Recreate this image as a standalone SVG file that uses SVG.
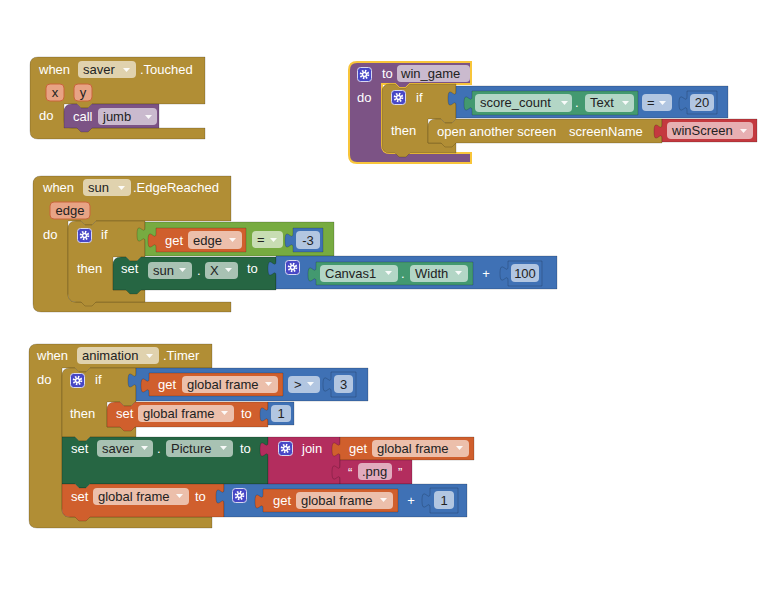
<svg xmlns="http://www.w3.org/2000/svg" xmlns:xlink="http://www.w3.org/1999/xlink" width="775" height="616" viewBox="0 0 775 616">
  <style>
    .blk { stroke: rgba(0,0,0,0.18); stroke-width: 1; }
    .gold { fill: #B18E35; }
    .purple { fill: #7C5385; }
    .blue { fill: #3F71B5; }
    .lgreen { fill: #77AB41; }
    .teal { fill: #439970; }
    .dgreen { fill: #266643; }
    .orange { fill: #D05F2D; }
    .pink { fill: #B32D5E; }
    .red { fill: #C4393F; }
    .sel { stroke: #F8C53A; stroke-width: 2; }
    .fld { fill: #ffffff; fill-opacity: 0.6; }
    .chip { fill: #E8A385; stroke: #C9653B; stroke-width: 1; }
    .lbl { font-family: "Liberation Sans", Arial, sans-serif; font-size: 13px; fill: #ffffff; }
    .ftx { font-family: "Liberation Sans", Arial, sans-serif; font-size: 13px; fill: #222222; }
    .mid { text-anchor: middle; }
  </style>
  <defs>
    <!-- dropdown arrow inside a field -->
    <path id="dd" d="M0,0 h7 l-3.5,4 z" fill="#ffffff" fill-opacity="0.9"/>
    <!-- mutator gear icon -->
    <g id="gear">
      <rect x="0.5" y="0.5" width="14" height="14" rx="3" fill="#4747C6" stroke="#D8D8F0" stroke-width="1"/>
      <circle cx="7.5" cy="7.5" r="3.7" fill="none" stroke="#ffffff" stroke-width="2.2" stroke-dasharray="1.45 1.45"/>
      <circle cx="7.5" cy="7.5" r="2.7" fill="#ffffff"/>
      <circle cx="7.5" cy="7.5" r="1.2" fill="#4747C6"/>
    </g>
  </defs>

  <rect width="775" height="616" fill="#ffffff"/>

  <!-- blocks snap together directly; no separate wires -->
  <g id="connectors"/>

  <!-- ===== when saver.Touched ===== -->
  <g id="ev-saver-touched">
    <path class="blk gold" d="M30,65 Q30,57 38,57 H205 V104 H92 l-4,4 h-7 l-4,-4 H64 V120 Q64,128 72,128 H205 V139 H38 Q30,139 30,131 Z"/>
    <text class="lbl" x="39" y="74">when</text>
    <rect class="fld" x="78" y="61" width="58" height="17" rx="4"/>
    <text class="ftx" x="83" y="74">saver</text>
    <use href="#dd" x="123" y="68"/>
    <text class="lbl" x="140" y="74">.Touched</text>
    <rect class="chip" x="46" y="84" width="18" height="17" rx="4"/>
    <text class="ftx mid" x="55" y="97">x</text>
    <rect class="chip" x="74" y="84" width="18" height="17" rx="4"/>
    <text class="ftx mid" x="83" y="97">y</text>
    <text class="lbl" x="39" y="120">do</text>
  </g>
  <g id="call-jumb">
    <path class="blk purple" d="M64,112 Q64,104 72,104 H77 l4,4 h7 l4,-4 H159 V128 H92 l-4,4 h-7 l-4,-4 H64 Z"/>
    <text class="lbl" x="73" y="121">call</text>
    <rect class="fld" x="98" y="108" width="59" height="17" rx="4"/>
    <text class="ftx" x="103" y="121">jumb</text>
    <use href="#dd" x="145" y="115"/>
  </g>

  <!-- ===== to win_game ===== -->
  <g id="proc-win-game">
    <path class="purple sel" d="M349,70 Q349,62 357,62 H471 V84 H410 l-4,4 h-7 l-4,-4 H382 V145 Q382,153 390,153 H471 V163 H357 Q349,163 349,155 Z"/>
    <use href="#gear" x="357" y="67"/>
    <text class="lbl" x="382" y="78">to</text>
    <rect class="fld" x="397" y="65" width="73" height="17" rx="4"/>
    <text class="ftx" x="401" y="78">win_game</text>
    <text class="lbl" x="357" y="102">do</text>
  </g>
  <g id="if-score">
    <path class="blk gold" d="M382,92 Q382,84 390,84 H395 l4,4 h7 l4,-4 H456 V119 l-4,4 h-7 l-4,-4 H428 V143 H456 V153 H410 l-4,4 h-7 l-4,-4 H390 Q382,153 382,145 Z"/>
    <use href="#gear" x="391" y="90"/>
    <text class="lbl" x="416" y="102">if</text>
    <text class="lbl" x="391" y="135">then</text>
  </g>
  <g id="cmp-score">
    <path class="blk blue" d="M456,86 H728 V118 H456 V106 c0,-10 -8,8 -8,-7.5 s8,2.5 8,-7.5 Z"/>
    <rect class="fld" x="642" y="94" width="30" height="17" rx="4"/>
    <text class="ftx" x="647" y="107">=</text>
    <use href="#dd" x="659" y="101"/>
  </g>
  <g id="get-score-text">
    <path class="blk teal" d="M472,91 H638 V115 H472 V111 c0,-10 -8,8 -8,-7.5 s8,2.5 8,-7.5 Z"/>
    <rect class="fld" x="475" y="94" width="97" height="18" rx="4"/>
    <text class="ftx" x="480" y="107">score_count</text>
    <use href="#dd" x="561" y="101"/>
    <text class="lbl" x="575" y="107">.</text>
    <rect class="fld" x="585" y="94" width="49" height="18" rx="4"/>
    <text class="ftx" x="590" y="107">Text</text>
    <use href="#dd" x="622" y="101"/>
  </g>
  <g id="num-20">
    <path class="blk blue" d="M687,91 H717 V114 H687 V111 c0,-10 -8,8 -8,-7.5 s8,2.5 8,-7.5 Z"/>
    <rect class="fld" x="690" y="94" width="24" height="17" rx="4"/>
    <text class="ftx mid" x="702" y="107">20</text>
  </g>
  <g id="open-screen">
    <path class="blk gold" d="M428,127 Q428,119 436,119 H441 l4,4 h7 l4,-4 H662 V143 H456 l-4,4 h-7 l-4,-4 H428 Z"/>
    <text class="lbl" x="437" y="136">open another screen</text>
    <text class="lbl" x="569" y="136">screenName</text>
  </g>
  <g id="screen-name">
    <path class="blk red" d="M662,119 H757 V142 H662 V139 c0,-10 -8,8 -8,-7.5 s8,2.5 8,-7.5 Z"/>
    <rect class="fld" x="667" y="122" width="86" height="17" rx="4"/>
    <text class="ftx" x="672" y="135">winScreen</text>
    <use href="#dd" x="740" y="129"/>
  </g>

  <!-- ===== when sun.EdgeReached ===== -->
  <g id="ev-sun-edge">
    <path class="blk gold" d="M33,184 Q33,176 41,176 H231 V221 H96 l-4,4 h-7 l-4,-4 H68 V294 Q68,302 76,302 H231 V312 H41 Q33,312 33,304 Z"/>
    <text class="lbl" x="43" y="192">when</text>
    <rect class="fld" x="83" y="179" width="48" height="17" rx="4"/>
    <text class="ftx" x="88" y="192">sun</text>
    <use href="#dd" x="118" y="186"/>
    <text class="lbl" x="133" y="192">.EdgeReached</text>
    <rect class="chip" x="50" y="202" width="40" height="17" rx="4"/>
    <text class="ftx mid" x="70" y="215">edge</text>
    <text class="lbl" x="43" y="239">do</text>
  </g>
  <g id="if-edge">
    <path class="blk gold" d="M68,229 Q68,221 76,221 H81 l4,4 h7 l4,-4 H145 V257 H141 l-4,4 h-7 l-4,-4 H113 V290 H145 V302 H96 l-4,4 h-7 l-4,-4 H76 Q68,302 68,294 Z"/>
    <use href="#gear" x="77" y="228"/>
    <text class="lbl" x="101" y="239">if</text>
    <text class="lbl" x="77" y="273">then</text>
  </g>
  <g id="cmp-edge">
    <path class="blk lgreen" d="M145,222 H334 V256 H145 V242 c0,-10 -8,8 -8,-7.5 s8,2.5 8,-7.5 Z"/>
    <rect class="fld" x="252" y="231" width="31" height="17" rx="4"/>
    <text class="ftx" x="257" y="244">=</text>
    <use href="#dd" x="270" y="238"/>
  </g>
  <g id="get-edge">
    <path class="blk orange" d="M156,228 H246 V252 H156 V248 c0,-10 -8,8 -8,-7.5 s8,2.5 8,-7.5 Z"/>
    <text class="lbl" x="165" y="245">get</text>
    <rect class="fld" x="188" y="231" width="54" height="18" rx="4"/>
    <text class="ftx" x="193" y="245">edge</text>
    <use href="#dd" x="229" y="238"/>
  </g>
  <g id="num-neg3">
    <path class="blk blue" d="M293,228 H323 V252 H293 V248 c0,-10 -8,8 -8,-7.5 s8,2.5 8,-7.5 Z"/>
    <rect class="fld" x="296" y="231" width="24" height="18" rx="4"/>
    <text class="ftx mid" x="308" y="245">-3</text>
  </g>
  <g id="set-sun-x">
    <path class="blk dgreen" d="M113,265 Q113,257 121,257 H126 l4,4 h7 l4,-4 H276 V290 H141 l-4,4 h-7 l-4,-4 H113 Z"/>
    <text class="lbl" x="121" y="273">set</text>
    <rect class="fld" x="148" y="262" width="44" height="17" rx="4"/>
    <text class="ftx" x="153" y="275">sun</text>
    <use href="#dd" x="179" y="268"/>
    <text class="lbl" x="197" y="275">.</text>
    <rect class="fld" x="205" y="262" width="33" height="17" rx="4"/>
    <text class="ftx" x="210" y="275">X</text>
    <use href="#dd" x="225" y="268"/>
    <text class="lbl" x="247" y="273">to</text>
  </g>
  <g id="add-width">
    <path class="blk blue" d="M276,256 H557 V289 H276 V276 c0,-10 -8,8 -8,-7.5 s8,2.5 8,-7.5 Z"/>
    <use href="#gear" x="285" y="260"/>
    <text class="lbl mid" x="486" y="278">+</text>
  </g>
  <g id="get-canvas-width">
    <path class="blk teal" d="M316,262 H473 V285 H316 V282 c0,-10 -8,8 -8,-7.5 s8,2.5 8,-7.5 Z"/>
    <rect class="fld" x="320" y="265" width="78" height="17" rx="4"/>
    <text class="ftx" x="325" y="278">Canvas1</text>
    <use href="#dd" x="385" y="271"/>
    <text class="lbl" x="401" y="278">.</text>
    <rect class="fld" x="410" y="265" width="58" height="17" rx="4"/>
    <text class="ftx" x="415" y="278">Width</text>
    <use href="#dd" x="455" y="271"/>
  </g>
  <g id="num-100">
    <path class="blk blue" d="M508,261 H542 V286 H508 V281 c0,-10 -8,8 -8,-7.5 s8,2.5 8,-7.5 Z"/>
    <rect class="fld" x="511" y="264" width="28" height="18" rx="4"/>
    <text class="ftx mid" x="525" y="278">100</text>
  </g>

  <!-- ===== when animation.Timer ===== -->
  <g id="ev-animation-timer">
    <path class="blk gold" d="M29,352 Q29,344 37,344 H212 V368 H90 l-4,4 h-7 l-4,-4 H62 V509 Q62,517 70,517 H212 V528 H37 Q29,528 29,520 Z"/>
    <text class="lbl" x="37" y="360">when</text>
    <rect class="fld" x="77" y="347" width="82" height="17" rx="4"/>
    <text class="ftx" x="82" y="360">animation</text>
    <use href="#dd" x="146" y="354"/>
    <text class="lbl" x="163" y="360">.Timer</text>
    <text class="lbl" x="37" y="384">do</text>
  </g>
  <g id="if-frame">
    <path class="blk gold" d="M62,376 Q62,368 70,368 H75 l4,4 h7 l4,-4 H136 V402 H135 l-4,4 h-7 l-4,-4 H107 V427 H136 V437 H90 l-4,4 h-7 l-4,-4 H62 Z"/>
    <use href="#gear" x="70" y="373"/>
    <text class="lbl" x="95" y="384">if</text>
    <text class="lbl" x="70" y="418">then</text>
  </g>
  <g id="cmp-frame">
    <path class="blk blue" d="M136,368 H368 V401 H136 V388 c0,-10 -8,8 -8,-7.5 s8,2.5 8,-7.5 Z"/>
    <rect class="fld" x="288" y="376" width="32" height="17" rx="4"/>
    <text class="ftx" x="294" y="389">&gt;</text>
    <use href="#dd" x="307" y="382"/>
  </g>
  <g id="get-frame-1">
    <path class="blk orange" d="M149,373 H283 V396 H149 V393 c0,-10 -8,8 -8,-7.5 s8,2.5 8,-7.5 Z"/>
    <text class="lbl" x="158" y="389">get</text>
    <rect class="fld" x="182" y="376" width="96" height="17" rx="4"/>
    <text class="ftx" x="187" y="389">global frame</text>
    <use href="#dd" x="265" y="382"/>
  </g>
  <g id="num-3">
    <path class="blk blue" d="M331,372 H356 V397 H331 V392 c0,-10 -8,8 -8,-7.5 s8,2.5 8,-7.5 Z"/>
    <rect class="fld" x="334" y="375" width="19" height="18" rx="4"/>
    <text class="ftx mid" x="343.5" y="389">3</text>
  </g>
  <g id="set-frame-reset">
    <path class="blk orange" d="M107,410 Q107,402 115,402 H120 l4,4 h7 l4,-4 H268 V427 H135 l-4,4 h-7 l-4,-4 H107 Z"/>
    <text class="lbl" x="116" y="418">set</text>
    <rect class="fld" x="138" y="405" width="96" height="17" rx="4"/>
    <text class="ftx" x="143" y="418">global frame</text>
    <use href="#dd" x="221" y="411"/>
    <text class="lbl" x="241" y="418">to</text>
  </g>
  <g id="num-1a">
    <path class="blk blue" d="M268,402 H294 V425 H268 V422 c0,-10 -8,8 -8,-7.5 s8,2.5 8,-7.5 Z"/>
    <rect class="fld" x="271" y="405" width="20" height="17" rx="4"/>
    <text class="ftx mid" x="281" y="418">1</text>
  </g>
  <g id="set-saver-picture">
    <path class="blk dgreen" d="M62,437 H75 l4,4 h7 l4,-4 H268 V484 H90 l-4,4 h-7 l-4,-4 H62 Z"/>
    <text class="lbl" x="71" y="453">set</text>
    <rect class="fld" x="97" y="440" width="56" height="17" rx="4"/>
    <text class="ftx" x="102" y="453">saver</text>
    <use href="#dd" x="141" y="446"/>
    <text class="lbl" x="157" y="453">.</text>
    <rect class="fld" x="166" y="440" width="67" height="17" rx="4"/>
    <text class="ftx" x="171" y="453">Picture</text>
    <use href="#dd" x="220" y="446"/>
    <text class="lbl" x="240" y="453">to</text>
  </g>
  <g id="join">
    <path class="blk pink" d="M268,437 H340 V484 H268 V457 c0,-10 -8,8 -8,-7.5 s8,2.5 8,-7.5 Z"/>
    <use href="#gear" x="278" y="441"/>
    <text class="lbl" x="302" y="453">join</text>
  </g>
  <g id="get-frame-2">
    <path class="blk orange" d="M340,437 H474 V460 H340 V457 c0,-10 -8,8 -8,-7.5 s8,2.5 8,-7.5 Z"/>
    <text class="lbl" x="349" y="453">get</text>
    <rect class="fld" x="372" y="440" width="97" height="17" rx="4"/>
    <text class="ftx" x="377" y="453">global frame</text>
    <use href="#dd" x="456" y="446"/>
  </g>
  <g id="text-png">
    <path class="blk pink" d="M340,460 H412 V484 H340 V480 c0,-10 -8,8 -8,-7.5 s8,2.5 8,-7.5 Z"/>
    <text class="lbl" x="348" y="477">“</text>
    <rect class="fld" x="358" y="463" width="34" height="17" rx="4"/>
    <text class="ftx" x="362" y="476">.png</text>
    <text class="lbl" x="398" y="477">”</text>
  </g>
  <g id="set-frame-next">
    <path class="blk orange" d="M62,484 H75 l4,4 h7 l4,-4 H224 V517 H90 l-4,4 h-7 l-4,-4 H70 Q62,517 62,509 Z"/>
    <text class="lbl" x="71" y="501">set</text>
    <rect class="fld" x="93" y="488" width="96" height="17" rx="4"/>
    <text class="ftx" x="98" y="501">global frame</text>
    <use href="#dd" x="176" y="494"/>
    <text class="lbl" x="195" y="501">to</text>
  </g>
  <g id="add-frame">
    <path class="blk blue" d="M224,484 H467 V517 H224 V504 c0,-10 -8,8 -8,-7.5 s8,2.5 8,-7.5 Z"/>
    <use href="#gear" x="232" y="488"/>
    <text class="lbl mid" x="411" y="505">+</text>
  </g>
  <g id="get-frame-3">
    <path class="blk orange" d="M263,489 H398 V512 H263 V509 c0,-10 -8,8 -8,-7.5 s8,2.5 8,-7.5 Z"/>
    <text class="lbl" x="273" y="505">get</text>
    <rect class="fld" x="296" y="492" width="97" height="17" rx="4"/>
    <text class="ftx" x="301" y="505">global frame</text>
    <use href="#dd" x="380" y="498"/>
  </g>
  <g id="num-1b">
    <path class="blk blue" d="M430,488 H458 V513 H430 V508 c0,-10 -8,8 -8,-7.5 s8,2.5 8,-7.5 Z"/>
    <rect class="fld" x="434" y="491" width="20" height="18" rx="4"/>
    <text class="ftx mid" x="444" y="505">1</text>
  </g>
</svg>
